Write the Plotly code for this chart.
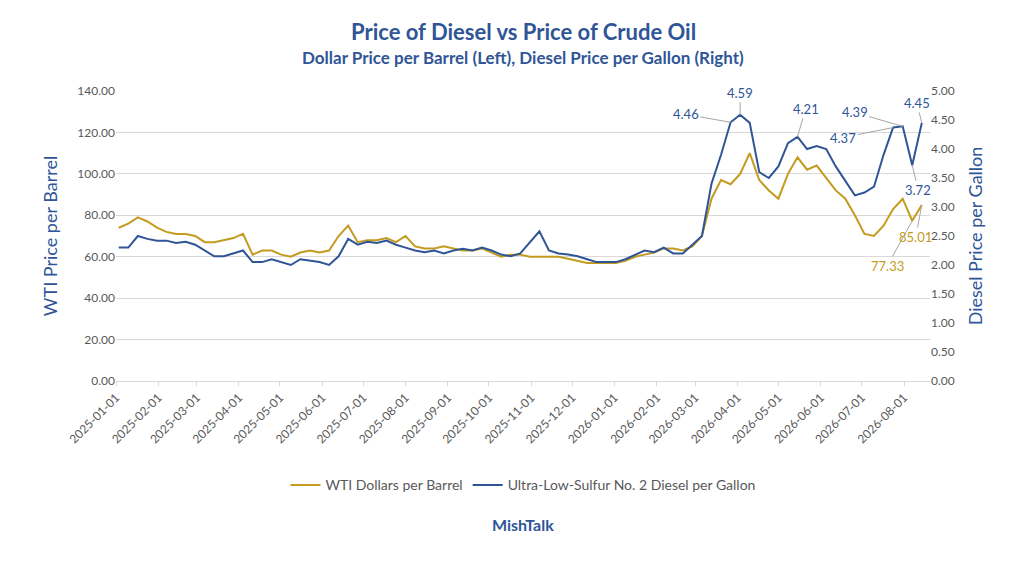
import pandas as pd
import plotly.graph_objects as go

dates = pd.date_range("2025-01-03", periods=85, freq="7D")
wti = [74,76,79,77,74, 72,71,71,70, 67,67,68,69, 71,61,63,63, 61,60,62,63,62,
       63,70,75,67, 68,68,69,67, 70,65,64,64,65, 64,63,63,64, 62,60,61,61,60,
       60,60,60,59, 58,57,57,57,
       57,58,60,61,62, 64,64,63,65, 70,88,97,95, 100,110,97,92, 88,100,108,102,104,
       98,92,88,80, 71,70,75,83,88, 77.33,85.01]
diesel = [2.30,2.30,2.50,2.45,2.42, 2.42,2.38,2.40,2.35, 2.25,2.15,2.15,2.20,
          2.25,2.05,2.05,2.10, 2.05,2.00,2.10,2.08,2.05, 2.00,2.15,2.45,2.35,
          2.40,2.38,2.42,2.35, 2.30,2.25,2.22,2.25,2.20, 2.25,2.28,2.25,2.30,
          2.25,2.18,2.15,2.20,2.40, 2.58,2.25,2.20,2.18, 2.15,2.10,2.05,2.05,
          2.05,2.10,2.18,2.25,2.22, 2.30,2.20,2.20,2.35, 2.50,3.40,3.90,4.46,
          4.59,4.45,3.60,3.50, 3.70,4.10,4.21,4.00,4.05, 4.00,3.70,3.45,3.20,
          3.25,3.35,3.90,4.37,4.39, 3.72,4.45]
tick_dates = pd.date_range("2025-01-01", "2026-08-01", freq="MS")

GOLD = "#C39B1E"
BLUE = "#2F5597"
GREY = "#595959"

fig = go.Figure()
fig.add_trace(go.Scatter(x=dates, y=wti, name="WTI Dollars per Barrel",
                         line=dict(color=GOLD, width=2)))
fig.add_trace(go.Scatter(x=dates, y=diesel, name="Ultra-Low-Sulfur No. 2 Diesel per Gallon",
                         line=dict(color=BLUE, width=2), yaxis="y2"))

def ann(i, series, yref, color, ax, ay, fmt):
    fig.add_annotation(x=dates[i], y=series[i], yref=yref, text=fmt.format(series[i]),
                       showarrow=True, arrowhead=0, arrowcolor="#A6A6A6", arrowwidth=1,
                       ax=ax, ay=ay, font=dict(color=color, size=13))

ann(64, diesel, "y2", BLUE, -45, -8, "{:.2f}")
ann(65, diesel, "y2", BLUE, 0, -22, "{:.2f}")
ann(71, diesel, "y2", BLUE, 8, -28, "{:.2f}")
ann(82, diesel, "y2", BLUE, -48, -14, "{:.2f}")
ann(81, diesel, "y2", BLUE, -50, 10, "{:.2f}")
ann(83, diesel, "y2", BLUE, 6, 25, "{:.2f}")
ann(84, diesel, "y2", BLUE, -5, -20, "{:.2f}")
ann(83, wti, "y", GOLD, -25, 45, "{:.2f}")
ann(84, wti, "y", GOLD, -6, 32, "{:.2f}")

fig.update_layout(
    width=1024, height=572, paper_bgcolor="white", plot_bgcolor="white",
    font=dict(family="Lato", color=GREY, size=12),
    margin=dict(l=108, r=102, t=83, b=199),
    xaxis=dict(range=["2025-01-01", "2026-08-20"], tickvals=tick_dates,
               ticktext=[d.strftime("%Y-%m-%d") for d in tick_dates], tickangle=-45,
               showgrid=False, showline=True, linecolor="#D9D9D9", ticks="outside",
               tickcolor="#D9D9D9", ticklen=4),
    yaxis=dict(range=[0, 140], dtick=20, tickformat=".2f", gridcolor="#D9D9D9",
               zeroline=False, title=dict(text="WTI Price per Barrel", font=dict(size=18, color=BLUE))),
    yaxis2=dict(range=[0, 5], dtick=0.5, tickformat=".2f", overlaying="y", side="right",
                showgrid=False, zeroline=False,
                title=dict(text="Diesel Price per Gallon", font=dict(size=18, color=BLUE))),
    legend=dict(orientation="h", x=0.5, xanchor="center", y=-0.36, yanchor="middle",
                font=dict(size=14, color=GREY)),
    showlegend=True,
)
fig.add_annotation(text="<b>Price of Diesel vs Price of Crude Oil</b>", x=0.5, xref="paper",
                   y=1, yref="paper", yanchor="middle", yshift=60, showarrow=False,
                   font=dict(size=22, color=BLUE))
fig.add_annotation(text="<b>Dollar Price per Barrel (Left), Diesel Price per Gallon (Right)</b>",
                   x=0.5, xref="paper", y=1, yref="paper", yanchor="middle", yshift=34,
                   showarrow=False, font=dict(size=17, color=BLUE))
fig.add_annotation(text="<b>MishTalk</b>", x=0.5, xref="paper", y=-0.5, yref="paper",
                   yshift=-10, showarrow=False, font=dict(size=16, color=BLUE))
fig.write_html("out.html")
